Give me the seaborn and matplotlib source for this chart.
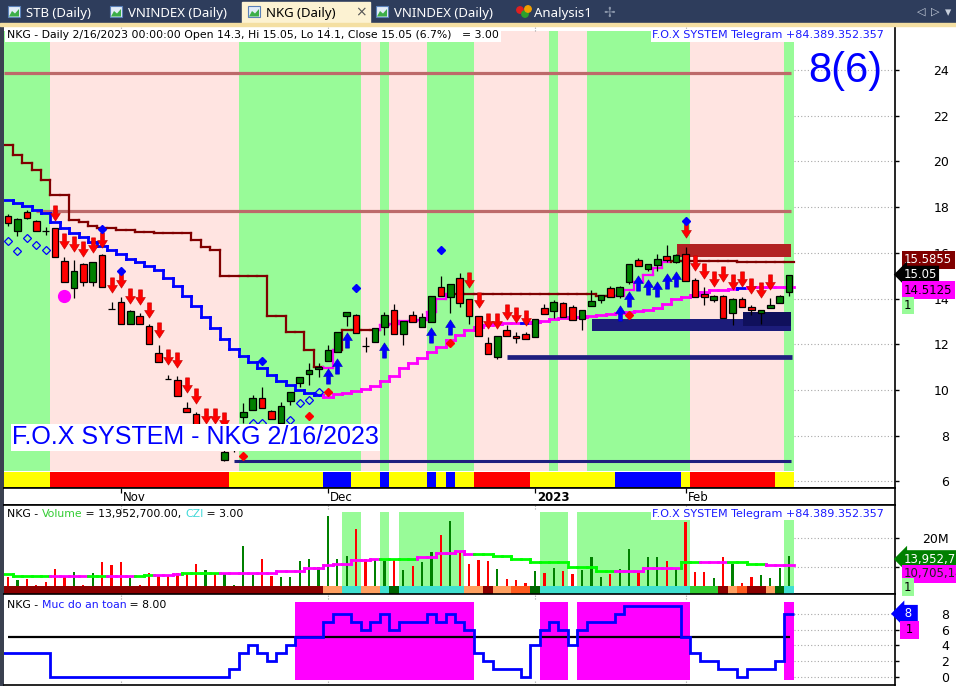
import numpy as np
import matplotlib
matplotlib.use("Agg")
import matplotlib.pyplot as plt
import seaborn as sns
from matplotlib.path import Path
from matplotlib.patches import Rectangle, Polygon, Circle
from matplotlib.collections import LineCollection

# ---------------- data (NKG daily, 84 sessions) ----------------
opens = [17.61, 16.95, 17.79, 17.39, 16.95, 17.09, 15.64, 14.46, 15.51, 14.72,
         15.90, 13.54, 13.85, 12.88, 13.23, 12.80, 11.61, 10.48, 10.43, 9.21,
         8.95, 7.90, 8.20, 6.93, 7.50, 8.81, 9.12, 9.65, 9.08, 8.55,
         9.51, 10.30, 10.70, 10.91, 11.26, 11.66, 13.23, 13.28, 11.92, 12.10,
         12.75, 13.50, 12.45, 13.28, 12.75, 12.97, 14.50, 14.07, 14.90, 13.98,
         13.23, 12.05, 11.44, 12.62, 12.36, 12.45, 12.32, 13.58, 13.45, 13.80,
         13.63, 13.10, 13.67, 13.93, 14.46, 14.11, 14.72, 15.68, 15.29, 15.47,
         15.86, 15.60, 15.95, 14.81, 14.20, 13.93, 14.11, 13.37, 13.98, 13.63,
         13.37, 13.58, 13.80, 14.30]
highs = [17.70, 17.52, 17.87, 17.45, 17.13, 17.09, 15.82, 15.68, 15.55, 15.60,
         15.95, 13.85, 14.07, 13.50, 13.37, 12.88, 11.97, 10.65, 10.61, 9.47,
         9.03, 8.50, 8.30, 7.40, 8.20, 9.43, 9.78, 10.13, 9.12, 9.47,
         9.91, 10.56, 11.18, 11.18, 11.97, 12.53, 13.41, 13.32, 12.32, 12.71,
         13.41, 13.76, 13.02, 13.45, 13.37, 14.11, 14.98, 14.63, 15.12, 14.00,
         13.23, 12.32, 12.36, 12.84, 12.53, 12.53, 13.10, 13.76, 13.93, 13.85,
         13.72, 13.50, 14.37, 14.15, 14.55, 14.55, 15.51, 15.77, 15.51, 15.95,
         16.34, 15.95, 16.25, 14.90, 14.50, 14.15, 14.15, 14.02, 14.07, 13.70,
         13.50, 14.02, 14.15, 15.05]
lows = [17.17, 16.74, 17.48, 16.95, 16.78, 15.82, 14.72, 14.02, 14.55, 14.55,
        14.50, 13.54, 12.88, 12.88, 12.88, 12.01, 11.22, 10.48, 9.73, 9.03,
        8.30, 7.90, 7.40, 6.89, 7.30, 8.55, 9.12, 9.21, 8.73, 8.55,
        9.34, 10.13, 10.21, 10.56, 11.26, 11.66, 12.80, 12.49, 11.66, 12.10,
        12.40, 12.45, 11.97, 12.97, 12.75, 12.97, 14.11, 13.37, 13.63, 12.88,
        12.36, 11.57, 11.35, 12.36, 12.05, 12.23, 12.32, 13.32, 13.15, 13.19,
        13.06, 12.62, 13.67, 13.80, 14.07, 14.02, 14.63, 15.42, 15.20, 15.20,
        15.60, 15.55, 14.77, 14.07, 13.72, 13.85, 13.15, 12.84, 13.63, 13.28,
        12.88, 13.58, 13.80, 14.10]
closes = [17.30, 17.48, 17.52, 16.95, 16.95, 15.82, 14.72, 15.20, 14.72, 15.60,
          14.50, 13.54, 12.88, 13.45, 12.88, 12.01, 11.22, 10.48, 9.73, 9.03,
          8.40, 8.30, 7.50, 7.28, 8.00, 9.03, 9.65, 9.21, 8.73, 9.30,
          9.91, 10.56, 10.87, 11.00, 11.75, 12.53, 13.41, 12.49, 11.92, 12.71,
          13.28, 12.45, 13.02, 12.97, 13.19, 14.11, 14.11, 14.63, 13.80, 13.23,
          12.36, 11.57, 12.36, 12.36, 12.27, 12.23, 13.10, 13.32, 13.85, 13.19,
          13.06, 13.50, 13.89, 14.15, 14.07, 14.50, 15.51, 15.42, 15.51, 15.73,
          15.68, 15.90, 14.77, 14.07, 14.07, 14.11, 13.15, 13.98, 13.63, 13.50,
          13.50, 13.72, 14.11, 15.05]

# upper trailing line (maroon / magenta) and lower trailing line (blue / magenta)
line_a = [20.70, 20.28, 19.93, 19.62, 19.19, 18.53, 18.53, 17.44, 17.35, 17.17,
          17.09, 17.09, 17.00, 17.00, 16.91, 16.91, 16.87, 16.87, 16.87, 16.87,
          16.56, 16.25, 16.12, 14.98, 14.98, 14.98, 14.98, 14.98, 13.23, 13.23,
          12.53, 12.53, 11.75, 11.00, 10.96, 11.75, 12.62, 12.62, 12.62, 12.62,
          12.84, 12.90, 13.00, 13.00, 13.05, 13.40, 14.00, 14.20, 14.20, 14.20,
          14.20, 14.20, 14.20, 14.20, 14.20, 14.20, 14.20, 14.20, 14.20, 14.20,
          14.20, 14.20, 14.20, 14.10, 14.10, 14.10, 14.37, 14.72, 15.03, 15.33,
          15.60, 15.64, 15.64, 15.64, 15.64, 15.64, 15.64, 15.64, 15.5855, 15.5855,
          15.5855, 15.5855, 15.5855, 15.5855]
line_a_runs = [("d", 34), ("m", 2), ("d", 4), ("m", 8), ("d", 17), ("m", 6), ("d", 13)]
line_b = [18.31, 18.18, 18.05, 17.87, 17.74, 17.35, 17.09, 16.87, 16.69, 16.47,
          16.30, 16.12, 15.95, 15.73, 15.60, 15.42, 15.25, 14.90, 14.55, 14.11,
          13.67, 13.19, 12.71, 12.23, 11.79, 11.48, 11.22, 10.96, 10.65, 10.39,
          10.21, 10.00, 9.86, 9.78, 9.69, 9.82, 9.86, 9.95, 10.04, 10.17,
          10.39, 10.61, 10.96, 11.18, 11.40, 11.66, 11.88, 12.18, 12.40, 12.62,
          12.75, 12.84, 12.88, 12.93, 12.93, 12.93, 12.97, 13.02, 13.10, 13.15,
          13.19, 13.19, 13.23, 13.28, 13.32, 13.37, 13.41, 13.45, 13.50, 13.58,
          13.76, 13.98, 14.07, 14.15, 14.28, 14.37, 14.37, 14.42, 14.46, 14.5125,
          14.5125, 14.5125, 14.5125, 14.5125]
line_b_runs = [("b", 34), ("m", 21), ("b", 1), ("m", 22), ("b", 1), ("m", 5)]

# signal markers (bar index, price)
sell_bars = [5, 6, 7, 8, 9, 10, 11, 12, 13, 14, 15, 16, 17, 18, 19, 20, 21, 22, 23,
             49, 50, 51, 52, 53, 54, 55, 72, 73, 74, 75, 76, 77, 78, 79, 80, 81]
sell_px = [17.74, 16.52, 16.39, 16.17, 16.34, 16.56, 14.59, 14.81, 14.11, 14.07,
           13.50, 12.62, 11.44, 11.31, 10.21, 9.73, 8.86, 8.86, 8.68,
           14.81, 13.93, 13.02, 13.02, 13.41, 13.28, 13.15,
           17.00, 15.55, 15.20, 14.85, 15.07, 14.72, 14.85, 14.55, 14.37, 14.72]
buy_bars = [34, 35, 36, 40, 45, 47, 65, 66, 67, 68, 69, 70, 71]
buy_px = [10.61, 11.05, 12.18, 11.75, 12.40, 12.75, 13.37, 13.98, 14.68, 14.50, 14.42, 14.77, 14.85]
red_dot_bars = [25, 32, 34, 47, 66]
red_dot_px = [7.11, 8.87, 9.92, 12.07, 13.28]
blue_dot_bars = [10, 12, 27, 37, 46, 72]
blue_dot_px = [17.04, 15.20, 11.26, 14.46, 16.12, 17.39]
hollow_bars = [0, 1, 2, 3, 4, 26, 27, 30, 31, 32, 33]
hollow_px = [16.52, 16.08, 16.65, 16.34, 16.12, 8.55, 8.55, 8.68, 9.43, 9.56, 9.91]
pink_dot_bar, pink_dot_px = [6], [14.11]

# horizontal levels: (price, first bar, last bar)
rose_levels = [(23.87, -0.4, 83.2), (17.83, 3.0, 83.2)]
navy_levels = [(6.89, 24.0, 83.2, 2.2), (11.44, 53.0, 83.3, 3.4)]
# zones: (first bar, last bar, low, high, colour)
zones = [(62.06, 83.2, 12.58, 13.10, "#1c1c7a"),
         (78.1, 83.2, 12.80, 13.42, "#10105c"),
         (71.1, 83.2, 15.82, 16.39, "#b22222")]

# background colouring per bar (run lengths)
zone_runs = [("G", 5), ("P", 20), ("G", 13), ("P", 2), ("G", 1), ("P", 4), ("G", 5),
             ("P", 8), ("G", 1), ("P", 3), ("G", 11), ("P", 10), ("G", 1)]
band_runs = [("Y", 5), ("R", 19), ("Y", 10), ("B", 3), ("Y", 3), ("B", 1), ("Y", 4), ("B", 1),
             ("Y", 1), ("B", 1), ("Y", 2), ("R", 6), ("Y", 9), ("B", 7), ("Y", 1), ("R", 9), ("Y", 2)]

# volume panel (millions)
volume = [6.4, 5.5, 6.0, 3.8, 4.7, 9.4, 6.7, 8.3, 3.8, 7.8,
          11.7, 10.7, 11.7, 6.3, 3.8, 7.8, 7.2, 7.2, 7.8, 7.5,
          10.9, 9.0, 8.0, 8.0, 3.8, 17.2, 7.2, 12.8, 6.9, 6.4,
          6.4, 12.1, 12.8, 9.9, 27.6, 12.8, 13.8, 23.1, 12.8, 12.8,
          12.1, 12.8, 9.0, 10.3, 11.7, 15.2, 21.0, 25.9, 15.5, 11.0,
          12.4, 12.1, 9.3, 5.9, 5.5, 4.4, 8.6, 7.8, 9.5, 8.6,
          7.5, 9.0, 13.3, 6.4, 7.6, 9.2, 16.1, 8.6, 13.3, 13.3,
          12.1, 9.8, 25.6, 8.2, 8.2, 6.3, 13.3, 11.0, 4.6, 6.4,
          7.2, 6.3, 9.8, 13.95]
vol_ma = [7.5, 7.0, 7.0, 6.9, 6.9, 6.9, 6.9, 6.9, 6.9, 7.0,
          7.0, 7.0, 7.0, 7.0, 7.0, 7.2, 7.2, 7.2, 7.5, 7.8,
          7.8, 7.8, 7.9, 8.0, 8.0, 8.0, 8.0, 8.0, 8.0, 8.6,
          8.6, 8.6, 9.5, 9.5, 10.7, 10.9, 10.9, 12.4, 12.4, 12.8,
          12.8, 12.8, 12.8, 12.8, 13.6, 13.6, 14.7, 14.7, 15.6, 14.5,
          14.5, 14.5, 13.7, 13.7, 12.6, 12.6, 11.8, 11.8, 11.8, 11.8,
          10.1, 10.1, 10.1, 8.6, 8.6, 8.6, 8.6, 8.6, 9.5, 9.5,
          9.5, 9.5, 11.6, 11.6, 11.6, 11.6, 11.6, 11.6, 11.6, 10.9,
          10.9, 10.7, 10.705, 10.705]
vol_ma_runs = [("g", 5), ("m", 4), ("g", 2), ("m", 3), ("g", 2), ("m", 3), ("g", 4), ("m", 17),
               ("g", 4), ("m", 6), ("g", 15), ("m", 7), ("g", 2), ("m", 3), ("g", 4), ("m", 3)]
vol_zone_runs = [(".", 36), ("G", 2), (".", 2), ("G", 1), (".", 1), ("G", 7), (".", 8),
                 ("G", 3), (".", 1), ("G", 12), (".", 10), ("G", 1)]
strip_runs = [("d", 34), ("s", 2), ("c", 2), ("s", 2), ("c", 1), ("k", 1), ("c", 7), ("s", 2),
              ("d", 1), ("s", 2), ("o", 2), ("k", 1), ("c", 16), ("g", 3), ("d", 1), ("s", 1),
              ("o", 1), ("d", 2), ("s", 1), ("k", 1), ("c", 1)]

# "Muc do an toan" (safety level) panel
safety = [3, 3, 3, 3, 3, 0, 0, 0, 0, 0, 0, 0, 0, 0, 0, 0, 0, 0, 0, 0,
          0, 0, 0, 0, 1, 3, 4, 3, 2, 3, 4, 5, 5, 5, 7, 8, 8, 7, 6, 7,
          8, 6, 7, 7, 7, 8, 7, 8, 7, 6, 3, 2, 1, 1, 1, 0, 4, 6, 7, 6,
          4, 6, 7, 7, 7, 8, 9, 9, 9, 9, 9, 9, 5, 3, 2, 2, 1, 1, 0, 1,
          1, 1, 2, 8]
safe_zone_runs = [(".", 31), ("M", 19), (".", 7), ("M", 3), (".", 1), ("M", 12), (".", 10), ("M", 1)]
safety_line = 5

month_pos = [12, 34, 56, 72]
month_lab = ["Nov", "Dec", "2023", "Feb"]
price_ticks = [6, 8, 10, 12, 14, 16, 18, 20, 22, 24]

# ---------------- style ----------------
sns.set_theme(style="white")
plt.rcParams['font.family'] = ['DejaVu Sans']

NAVY = "#2e3d5c"
GREEN_BG, PINK_BG = "#98fb98", "#ffe4e1"
W, H = 956, 686
XL = (-0.425, 94.26)

fig = plt.figure(figsize=(W / 100, H / 100), dpi=100, facecolor="white")


def panel(x0, y0, x1, y1):
    return fig.add_axes([x0 / W, 1 - y1 / H, (x1 - x0) / W, (y1 - y0) / H])


def draw_runs(axx, runs, y0, y1, colors, z=1):
    start = 0
    for k, L in runs:
        if k in colors:
            axx.bar(start - 0.5, y1 - y0, width=L, bottom=y0, align="edge",
                    color=colors[k], linewidth=0, zorder=z)
        start += L


def expand(runs):
    return [k for k, L in runs for _ in range(L)]


def stair(axx, vals, runs, cmap, lw, z):
    flags = expand(runs)
    segs, cols = [], []
    for i, v in enumerate(vals):
        segs.append([(i - 0.5, v), (i + 0.5, v)])
        cols.append(cmap[flags[i]])
        if i + 1 < len(vals):
            segs.append([(i + 0.5, v), (i + 0.5, vals[i + 1])])
            cols.append(cmap[flags[i + 1]])
    axx.add_collection(LineCollection(segs, colors=cols, linewidths=lw, zorder=z,
                                      capstyle="projecting"))


def right_axis(axx, ticks, labels=None):
    axx.yaxis.tick_right()
    axx.set_yticks(ticks)
    if labels is not None:
        axx.set_yticklabels(labels)
    axx.tick_params(axis="y", direction="out", length=3, width=1, pad=36,
                    labelsize=9, colors="black", right=True, left=False)
    for t in axx.get_yticklabels():
        t.set_horizontalalignment("right")
    axx.hlines(ticks, 83.5, XL[1], colors="#a8a8a8", linestyles=(0, (1, 2)), lw=0.8, zorder=1.5)


def frame(axx, top=True, bottom=True):
    axx.set_facecolor("white")
    axx.set_xlim(*XL)
    axx.set_xticks([])
    for s in axx.spines.values():
        s.set_visible(False)
    axx.spines["right"].set_visible(True)
    axx.spines["right"].set_color("black")
    axx.spines["right"].set_linewidth(1.2)
    for name, on in (("top", top), ("bottom", bottom)):
        if on:
            axx.spines[name].set_visible(True)
            axx.spines[name].set_color("black")
            axx.spines[name].set_linewidth(1.2)


def tag(axx, y, text, fc, tc, dy=0, style="square", dx=6.5):
    axx.annotate(text, xy=(1, y), xycoords=("axes fraction", "data"), xytext=(dx, dy),
                 textcoords="offset points", ha="left", va="center", fontsize=8.5, color=tc,
                 bbox=dict(boxstyle=style + ",pad=0.2", fc=fc, ec="none"),
                 annotation_clip=False, zorder=20)


def rainbow(axx, x, y, parts, size=7.8):
    t = axx.text(x, y, parts[0][0], color=parts[0][1], transform=axx.transAxes,
                 ha="left", va="center", fontsize=size, zorder=20)
    for s, c in parts[1:]:
        t = axx.annotate(s, xy=(1, 0), xycoords=t, xytext=(0, 0), textcoords="offset points",
                         ha="left", va="bottom", fontsize=size, color=c, zorder=20)


# ---------------- window chrome ----------------
fig.add_artist(Rectangle((0, 0), 3 / W, 1, transform=fig.transFigure, color="#3a4150", zorder=-1))
fig.add_artist(Rectangle((0, 1 - 26 / H), 1, 3 / H, transform=fig.transFigure, color="#f4dfa2", zorder=1))

ax_tab = panel(0, 0, W, 24)
ax_tab.set_xlim(0, W)
ax_tab.set_ylim(24, 0)
ax_tab.axis("off")
ax_tab.add_patch(Rectangle((0, 0), W, 24, color=NAVY))
ax_tab.add_patch(Rectangle((242, 2), 128, 22, color="#fcf2d2"))
tabs = [("STB (Daily)", 8, False), ("VNINDEX (Daily)", 110, False),
        ("NKG (Daily)", 248, True), ("VNINDEX (Daily)", 376, False)]
for name, x0, active in tabs:
    ax_tab.add_patch(Rectangle((x0, 6), 12, 11, fc="#e3ecf8", ec="#5a80b8", lw=0.8))
    ax_tab.add_patch(Polygon([(x0 + 1, 16.5), (x0 + 4, 11), (x0 + 7, 13.5), (x0 + 11, 9), (x0 + 11, 16.5)],
                             closed=True, fc="#3cae48", ec="none"))
    ax_tab.text(x0 + 18, 13, name, color="black" if active else "white", fontsize=9.5,
                fontweight="bold" if active else "normal", va="center", ha="left",
                family=["Noto Sans", "DejaVu Sans"])
ax_tab.text(361, 12, "×", color="#555555", fontsize=10, va="center", ha="center")
for cx, cy, c in ((520, 10, "#e02020"), (525, 14, "#2ca02c"), (528, 9, "#f0a000")):
    ax_tab.add_patch(Circle((cx, cy), 3.2, color=c))
ax_tab.text(534, 13, "Analysis1", color="white", fontsize=9.5, va="center", ha="left",
            family=["Noto Sans", "DejaVu Sans"])
ax_tab.text(609, 12.5, "✢", color="#8a96aa", fontsize=10, va="center", ha="center")
ax_tab.text(921, 12, "◁", color="#c8d0dc", fontsize=8, va="center", ha="center")
ax_tab.text(935, 12, "▷", color="#c8d0dc", fontsize=8, va="center", ha="center")
ax_tab.text(948, 13, "▾", color="#c8d0dc", fontsize=9, va="center", ha="center")

# ---------------- price panel ----------------
ax = panel(4, 26, 895, 488)
frame(ax, top=False, bottom=True)
ax.set_ylim(5.71, 25.93)
x = np.arange(len(closes))
o, h, l, c = map(np.asarray, (opens, highs, lows, closes))

draw_runs(ax, zone_runs, 6.45, 25.71, {"G": GREEN_BG, "P": PINK_BG}, z=1)
draw_runs(ax, band_runs, 5.75, 6.41, {"Y": "#ffff00", "R": "#ff0000", "B": "#0000ff"}, z=1)
ax.vlines(month_pos, 25.71, 25.93, colors="#a0a0a0", linestyles=(0, (1, 1.5)), lw=0.8)
right_axis(ax, price_ticks)

for x0, x1, lo, hi, col in zones:
    ax.add_patch(Rectangle((x0, lo), x1 - x0, hi - lo, color=col, lw=0, zorder=2))
for lev, x0, x1 in rose_levels:
    ax.hlines(lev, x0, x1, colors="#bd6a6a", lw=2.3, zorder=2.5)
for lev, x0, x1, lw in navy_levels:
    ax.hlines(lev, x0, x1, colors="#1f1f7f", lw=lw, zorder=2.5)

stair(ax, line_a, line_a_runs, {"d": "#800000", "m": "#ff00ff"}, 1.6, 3)
stair(ax, line_b, line_b_runs, {"b": "#0000ff", "m": "#ff00ff"}, 2.0, 3)

body_col = np.where(c > o, "#008000", np.where(c < o, "#ff0000", "black"))
ax.vlines(x, l, h, colors="black", lw=0.9, zorder=4)
ax.bar(x, np.abs(c - o), bottom=np.minimum(o, c), width=0.7, color=body_col,
       edgecolor="black", linewidth=0.9, zorder=5)

arrow_v = [(-0.13, 0.5), (0.13, 0.5), (0.13, 0.0), (0.32, 0.0), (0.0, -0.5),
           (-0.32, 0.0), (-0.13, 0.0), (-0.13, 0.5)]
codes = [Path.MOVETO] + [Path.LINETO] * 6 + [Path.CLOSEPOLY]
down_arrow = Path(arrow_v, codes)
up_arrow = Path([(vx, -vy) for vx, vy in arrow_v], codes)
ax.plot(sell_bars, sell_px, ls="none", marker=down_arrow, ms=11, mfc="#ff0000",
        mec="#c00000", mew=0.4, zorder=6)
ax.plot(buy_bars, buy_px, ls="none", marker=up_arrow, ms=11, mfc="#0000ff",
        mec="#0000c0", mew=0.4, zorder=6)
ax.plot(red_dot_bars, red_dot_px, ls="none", marker="D", ms=3.6, mfc="#ff0000", mec="#ff0000", zorder=6)
ax.plot(blue_dot_bars, blue_dot_px, ls="none", marker="D", ms=3.6, mfc="#0000ff", mec="#0000ff", zorder=6)
ax.plot(hollow_bars, hollow_px, ls="none", marker="D", ms=3.6, mfc="none", mec="#0000ff", mew=0.9, zorder=6)
ax.plot(pink_dot_bar, pink_dot_px, ls="none", marker="o", ms=8.5, mfc="#ff00ff", mec="#ff00ff", zorder=6)

ax.text(0.0035, 0.980, "NKG - Daily 2/16/2023 00:00:00 Open 14.3, Hi 15.05, Lo 14.1, Close 15.05 (6.7%)   = 3.00",
        transform=ax.transAxes, ha="left", va="center", fontsize=7.8, color="black",
        bbox=dict(boxstyle="square,pad=0.15", fc="white", ec="none"), zorder=20)
ax.text(0.988, 0.980, "F.O.X SYSTEM Telegram +84.389.352.357", transform=ax.transAxes,
        ha="right", va="center", fontsize=8, color="#1a1aff",
        bbox=dict(boxstyle="square,pad=0.12", fc="white", ec="none"), zorder=20)
ax.text(0.944, 0.902, "8(6)", transform=ax.transAxes, ha="center", va="center",
        fontsize=30, color="#0000ff", family=["Liberation Sans", "DejaVu Sans"], zorder=20)
ax.text(0.009, 0.110, "F.O.X SYSTEM - NKG 2/16/2023", transform=ax.transAxes, ha="left",
        va="center", fontsize=18, color="#0000ff", family=["Liberation Sans", "DejaVu Sans"],
        bbox=dict(boxstyle="square,pad=0.06", fc="white", ec="none"), zorder=20)

tag(ax, line_a[-1], "15.5855", "#800000", "white", dy=1.7)
tag(ax, closes[-1], "15.05", "black", "white", style="larrow", dx=6)
tag(ax, line_b[-1], "14.5125", "#ff00ff", "black", dy=-2.3)
tag(ax, line_b[-1], "1", GREEN_BG, "black", dy=-13.5)

# ---------------- date strip ----------------
ax_dt = panel(4, 488, 895, 505)
frame(ax_dt, top=True, bottom=True)
ax_dt.set_ylim(0, 1)
ax_dt.set_yticks([])
ax_dt.vlines(month_pos, 0.72, 1.0, colors="black", lw=0.9)
for p, lab in zip(month_pos, month_lab):
    ax_dt.text(p + 0.2, 0.47, lab, ha="left", va="center", fontsize=8.5, color="black",
               fontweight="bold" if lab == "2023" else "normal")

# ---------------- volume panel ----------------
ax_v = panel(4, 505, 895, 594)
frame(ax_v, top=True, bottom=True)
ax_v.set_ylim(0.69, 31.4)
draw_runs(ax_v, vol_zone_runs, 0.0, 29.0, {"G": GREEN_BG}, z=1)
ax_v.vlines(month_pos, 29.9, 31.4, colors="#a0a0a0", linestyles=(0, (1, 1.5)), lw=0.8)
right_axis(ax_v, [10, 20], ["", "20M"])
vol_col = np.where(c > o, "#008000", "#ff0000")
ax_v.bar(x, volume, width=0.24, color=vol_col, linewidth=0, zorder=3)
stair(ax_v, vol_ma, vol_ma_runs, {"g": "#00ff00", "m": "#ff00ff"}, 2.0, 4)
draw_runs(ax_v, strip_runs, 0.69, 3.45,
          {"d": "#8b0000", "s": "#ffa060", "o": "#ff5a1e", "c": "#40e0d0",
           "g": "#32cd32", "k": "#006400"}, z=5)
rainbow(ax_v, 0.0035, 0.90, [("NKG - ", "black"), ("Volume", "#33cc33"),
                             (" = 13,952,700.00, ", "black"), ("CZI", "#40d8d8"),
                             (" = 3.00", "black")])
ax_v.text(0.988, 0.90, "F.O.X SYSTEM Telegram +84.389.352.357", transform=ax_v.transAxes,
          ha="right", va="center", fontsize=8, color="#1a1aff",
          bbox=dict(boxstyle="square,pad=0.12", fc="white", ec="none"), zorder=20)
tag(ax_v, volume[-1], "13,952,70", "#008000", "white", style="larrow", dx=6, dy=-2.5)
tag(ax_v, vol_ma[-1], "10,705,14", "#ff00ff", "#202020", dy=-6.3)
tag(ax_v, vol_ma[-1], "1", GREEN_BG, "black", dy=-16)

# ---------------- safety panel ----------------
ax_s = panel(4, 594, 895, 685)
frame(ax_s, top=True, bottom=True)
ax_s.set_ylim(-1.01, 10.5)
draw_runs(ax_s, safe_zone_runs, -0.38, 9.49, {"M": "#ff00ff"}, z=1)
ax_s.vlines(month_pos, 9.9, 10.5, colors="#a0a0a0", linestyles=(0, (1, 1.5)), lw=0.8)
ax_s.vlines(month_pos, -1.01, -0.5, colors="#a0a0a0", linestyles=(0, (1, 1.5)), lw=0.8)
right_axis(ax_s, [0, 2, 4, 6, 8])
ax_s.hlines(safety_line, 0, 83.1, colors="black", lw=1.6, zorder=3)
ax_s.stairs(safety, np.arange(len(safety) + 1) - 0.5, baseline=None, color="#0000ff",
            lw=2.0, zorder=4)
rainbow(ax_s, 0.0035, 0.879, [("NKG - ", "black"), ("Muc do an toan", "#1a1aff"),
                              (" = 8.00", "black")])
tag(ax_s, safety[-1], " 8 ", "#0000ff", "white", style="larrow", dx=4)
tag(ax_s, safety[-1], " 1 ", "#ff00ff", "black", dy=-11.5, dx=5)

fig.savefig("out.png", dpi=100)
